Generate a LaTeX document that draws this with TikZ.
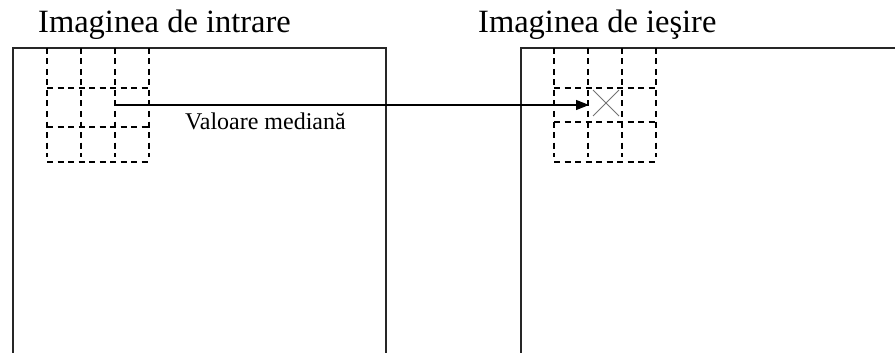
\documentclass[tikz,border=0pt]{standalone}
\usepackage{fontspec}
\setmainfont{Liberation Serif}
\usetikzlibrary{arrows.meta}
\begin{document}
\begin{tikzpicture}[x=1pt,y=-1pt,
  frame/.style={draw=black!85,line width=1.3pt},
  gridline/.style={draw=black,line width=1.25pt,dash pattern=on 6pt off 4.5pt},
  link/.style={draw=black,line width=1.1pt,-{Triangle[length=13pt,width=10pt]}},
  cross/.style={draw=black!55,line width=0.9pt},
  title/.style={anchor=base west,inner sep=0pt,font=\fontsize{32.5}{36}\selectfont},
  lbl/.style={anchor=base west,inner sep=0pt,font=\fontsize{24}{26}\selectfont}]
\useasboundingbox (0,0) rectangle (895,353);
% titles
\node[title] (tin) at (38,33) {Imaginea de intrare};
\node[title] (tout) at (478,33) {Imaginea de ieşire};
% frames
\draw[frame] (13,353) -- (13,48) -- (386,48) -- (386,353);
\draw[frame] (521,353) -- (521,48) -- (895,48);
% left grid
\foreach \x in {47,81,115,149} \draw[gridline] (\x,48) -- (\x,157);
\foreach \y in {88,127,162} \draw[gridline] (47,\y) -- (149,\y);
% right grid
\foreach \x in {554,588,622,656} \draw[gridline] (\x,48) -- (\x,157);
\foreach \y in {88,122,162} \draw[gridline] (554,\y) -- (656,\y);
% cross in the centre cell
\coordinate (c1) at (593,90);
\coordinate (c2) at (619,116);
\coordinate (c3) at (619,90);
\coordinate (c4) at (593,116);
\draw[cross] (c1) -- (c2);
\draw[cross] (c3) -- (c4);
% arrow
\coordinate (src) at (115,105);
\coordinate (dst) at (589,105);
\draw[link] (src) -- (dst);
\node[lbl] (med) at (185,129) {Valoare mediană};
\end{tikzpicture}
\end{document}
